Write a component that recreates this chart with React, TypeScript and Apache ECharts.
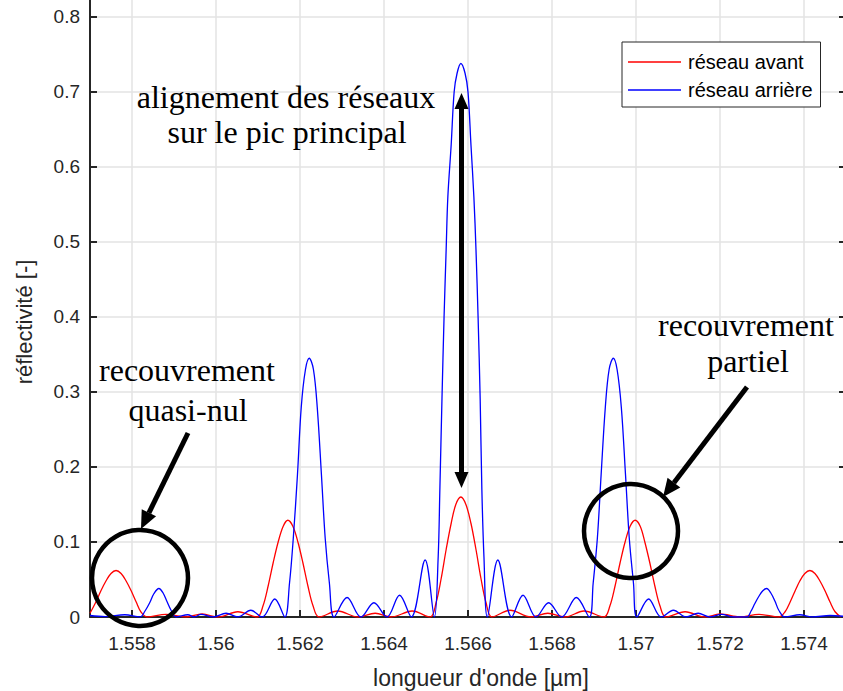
import React, { useEffect, useRef } from "react";
import * as echarts from "echarts";

// wavelength (µm) and reflectivity of the front grating (red)
const redLambda = [
  1.557, 1.55714, 1.55726, 1.55738, 1.5575, 1.55762, 1.55774, 1.55786, 1.55798, 1.5581, 1.55821, 1.55836,
  1.55881, 1.55929, 1.55967, 1.56005, 1.56052, 1.56098,
  1.56112, 1.56124, 1.56136, 1.56148, 1.5616, 1.56171, 1.56183, 1.56195, 1.56207, 1.56219, 1.56231, 1.56245,
  1.5629, 1.56338, 1.56379, 1.56417, 1.56467, 1.5651,
  1.56524, 1.56536, 1.56548, 1.5656, 1.56571, 1.56583, 1.56595, 1.56607, 1.56619, 1.56631, 1.56643, 1.56657,
  1.567, 1.5675, 1.5679, 1.56831, 1.56876, 1.56924,
  1.56938, 1.5695, 1.56962, 1.56974, 1.56986, 1.56998, 1.5701, 1.57021, 1.57033, 1.57045, 1.57057, 1.57071,
  1.57117, 1.57164, 1.572, 1.57248, 1.57293, 1.5734,
  1.57355, 1.57367, 1.57379, 1.5739, 1.57402, 1.57414, 1.57426, 1.57438, 1.5745, 1.57462, 1.57474, 1.57488,
];
const redReflect = [
  0.005, 0.02, 0.035, 0.048, 0.058, 0.062, 0.058, 0.048, 0.035, 0.02, 0.007, 0,
  0.0035, 0, 0.004, 0, 0.007, 0,
  0.015, 0.041, 0.072, 0.1, 0.121, 0.129, 0.121, 0.1, 0.072, 0.041, 0.015, 0,
  0.008, 0, 0.005, 0, 0.008, 0,
  0.019, 0.051, 0.09, 0.125, 0.15, 0.16, 0.15, 0.125, 0.09, 0.051, 0.019, 0,
  0.009, 0, 0.005, 0, 0.008, 0,
  0.015, 0.041, 0.072, 0.1, 0.121, 0.129, 0.121, 0.1, 0.072, 0.041, 0.015, 0,
  0.007, 0, 0.004, 0, 0.0035, 0,
  0.007, 0.02, 0.035, 0.048, 0.058, 0.062, 0.058, 0.048, 0.035, 0.02, 0.007, 0,
];

// wavelength (µm) and reflectivity of the rear grating (blue)
const blueLambda = [
  1.557, 1.55736, 1.55783, 1.55819,
  1.55831, 1.55843, 1.55852, 1.55864, 1.55874, 1.55883, 1.55893, 1.55905,
  1.55933, 1.55948, 1.55964, 1.55993, 1.56024, 1.56052, 1.56083, 1.5611, 1.5614, 1.56164,
  1.56175, 1.56184, 1.56194, 1.56203, 1.56213, 1.56222, 1.56232, 1.56241, 1.56251, 1.5626, 1.5627, 1.56281,
  1.56312, 1.56345, 1.56376, 1.56407, 1.56437, 1.56465, 1.56498, 1.5652,
  1.56529, 1.56533, 1.56538, 1.56543, 1.56548, 1.56552, 1.5656, 1.56567, 1.56574, 1.56583,
  1.56593, 1.566, 1.56607, 1.56614, 1.56619, 1.56624, 1.56629, 1.56633, 1.56638, 1.56646,
  1.56671, 1.56704, 1.56731, 1.56762, 1.56792, 1.56823, 1.56858, 1.56889,
  1.56898, 1.56908, 1.56917, 1.56927, 1.56936, 1.56946, 1.56955, 1.56965, 1.56975, 1.56984, 1.56994, 1.57002,
  1.5703, 1.5706, 1.57089, 1.57119, 1.57148, 1.57176, 1.57204, 1.57231, 1.57264,
  1.57274, 1.57283, 1.57293, 1.57302, 1.57311, 1.57321, 1.57331, 1.5734, 1.57355,
  1.5739, 1.57419, 1.57462, 1.57493,
];
const blueReflect = [
  0.002, 0.0005, 0.003, 0,
  0.008, 0.02, 0.031, 0.038, 0.032, 0.021, 0.009, 0,
  0.003, 0, 0.0035, 0, 0.005, 0, 0.009, 0, 0.024, 0,
  0.045, 0.105, 0.19, 0.28, 0.33, 0.345, 0.33, 0.28, 0.19, 0.105, 0.045, 0,
  0.026, 0, 0.019, 0, 0.029, 0, 0.076, 0,
  0.08, 0.17, 0.29, 0.4, 0.49, 0.56, 0.63, 0.7, 0.725, 0.738,
  0.725, 0.7, 0.63, 0.56, 0.49, 0.4, 0.29, 0.17, 0.08, 0,
  0.076, 0, 0.029, 0, 0.019, 0, 0.026, 0,
  0.045, 0.105, 0.19, 0.28, 0.33, 0.345, 0.33, 0.28, 0.19, 0.105, 0.045, 0,
  0.024, 0, 0.009, 0, 0.005, 0, 0.0035, 0, 0,
  0.008, 0.018, 0.028, 0.035, 0.038, 0.032, 0.021, 0.009, 0,
  0.003, 0, 0.002, 0.001,
];

const seriesNames = ["réseau avant", "réseau arrière"];
const xTitle = "longueur d'onde [µm]";
const yTitle = "réflectivité [-]";

const SANS = "'Liberation Sans', Arial, Helvetica, sans-serif";
const SERIF = "'Liberation Serif', 'Times New Roman', Times, serif";
const AX = "#262626";

function zip(xs: number[], ys: number[]) {
  return xs.map((x, i) => [x, ys[i]]);
}

function head(xt: number, yt: number, xf: number, yf: number, len: number, w: number) {
  const dx = xt - xf, dy = yt - yf;
  const L = Math.hypot(dx, dy);
  const ux = dx / L, uy = dy / L;
  const bx = xt - ux * len, by = yt - uy * len;
  const px = -uy, py = ux;
  return {
    base: [bx, by],
    el: {
      type: "polygon",
      silent: true,
      shape: { points: [[xt, yt], [bx + px * w / 2, by + py * w / 2], [bx - px * w / 2, by - py * w / 2]] },
      style: { fill: "#000" },
      z: 100,
    },
  };
}

function arrow(x1: number, y1: number, x2: number, y2: number, len: number, w: number, lw: number) {
  const h = head(x2, y2, x1, y1, len, w);
  return [
    { type: "line", silent: true, shape: { x1, y1, x2: h.base[0], y2: h.base[1] }, style: { stroke: "#000", lineWidth: lw }, z: 100 },
    h.el,
  ];
}

function doubleArrow(x1: number, y1: number, x2: number, y2: number, len: number, w: number, lw: number) {
  const a = head(x1, y1, x2, y2, len, w);
  const b = head(x2, y2, x1, y1, len, w);
  return [
    { type: "line", silent: true, shape: { x1: a.base[0], y1: a.base[1], x2: b.base[0], y2: b.base[1] }, style: { stroke: "#000", lineWidth: lw }, z: 100 },
    a.el,
    b.el,
  ];
}

function label(text: string, x: number, y: number) {
  return {
    type: "text",
    silent: true,
    x,
    y,
    z: 100,
    style: { text, fill: "#000", font: `32px ${SERIF}`, textAlign: "center", textVerticalAlign: "middle" },
  };
}

function circle(cx: number, cy: number, r: number) {
  return { type: "circle", silent: true, shape: { cx, cy, r }, style: { fill: "none", stroke: "#000", lineWidth: 4.5 }, z: 100 };
}

export default function App() {
  const ref = useRef<HTMLDivElement>(null);
  useEffect(() => {
    document.body.style.margin = "0";
    const chart = echarts.init(ref.current!, null, { renderer: "svg" });
    const fmt = (v: number) => String(parseFloat(v.toFixed(4)));
    const option: any = {
      animation: false,
      backgroundColor: "#fff",
      grid: { left: 90, top: -2, width: 756, height: 619, containLabel: false, outerBoundsMode: "none" },
      legend: {
        data: seriesNames,
        left: 622,
        top: 42,
        orient: "vertical",
        selectedMode: false,
        backgroundColor: "#fff",
        borderColor: AX,
        borderWidth: 1,
        padding: [10, 8, 7, 6],
        itemGap: 8,
        itemWidth: 53,
        itemHeight: 1.5,
        icon: "rect",
        textStyle: { fontSize: 20, color: "#000", fontFamily: SANS, padding: [0, 0, 0, 2] },
        z: 50,
      },
      xAxis: {
        type: "value",
        min: 1.557,
        max: 1.575,
        splitNumber: 9,
        axisLine: { show: true, onZero: false, lineStyle: { color: AX, width: 2 } },
        axisTick: { show: true, inside: true, length: 7, lineStyle: { color: AX, width: 2 } },
        axisLabel: { show: true, showMinLabel: false, showMaxLabel: false, margin: 17, fontSize: 19, color: AX, fontFamily: SANS, formatter: fmt },
        splitLine: { show: true, lineStyle: { color: "#e3e3e3", width: 1.5 } },
      },
      yAxis: [
        {
          type: "value",
          min: 0,
          max: 0.8253,
          interval: 0.1,
          axisLine: { show: true, lineStyle: { color: AX, width: 2 } },
          axisTick: { show: true, inside: true, length: 7, lineStyle: { color: AX, width: 2 } },
          axisLabel: { show: true, showMaxLabel: false, margin: 10, fontSize: 19, color: AX, fontFamily: SANS, formatter: fmt },
          splitLine: { show: true, lineStyle: { color: "#e3e3e3", width: 1.5 } },
        },
        {
          type: "value",
          position: "right",
          min: 0,
          max: 0.8253,
          interval: 0.1,
          axisLine: { show: false },
          axisTick: { show: true, inside: true, length: 7, lineStyle: { color: AX, width: 2 } },
          axisLabel: { show: false },
          splitLine: { show: false },
        },
      ],
      series: [
        {
          name: seriesNames[0],
          type: "line",
          data: zip(redLambda, redReflect),
          smooth: 0.35,
          symbol: "none",
          showSymbol: false,
          color: "#ff0000",
          lineStyle: { color: "#ff0000", width: 1.3 },
          z: 3,
        },
        {
          name: seriesNames[1],
          type: "line",
          data: zip(blueLambda, blueReflect),
          smooth: 0.35,
          symbol: "none",
          showSymbol: false,
          color: "#0000ff",
          lineStyle: { color: "#0000ff", width: 1.3 },
          z: 4,
        },
      ],
      graphic: [
        {
          type: "text",
          silent: true,
          x: 481,
          y: 678,
          style: { text: xTitle, fill: AX, font: `23px ${SANS}`, textAlign: "center", textVerticalAlign: "middle" },
        },
        {
          type: "text",
          silent: true,
          x: 24,
          y: 322,
          rotation: Math.PI / 2,
          style: { text: yTitle, fill: AX, font: `22px ${SANS}`, textAlign: "center", textVerticalAlign: "middle" },
        },
        label("alignement des réseaux", 286, 97),
        label("sur le pic principal", 287, 132),
        label("recouvrement", 187, 370),
        label("quasi-nul", 188, 410),
        label("recouvrement", 746, 325),
        label("partiel", 748, 361),
        circle(140, 578, 48),
        circle(631, 531, 47),
        ...arrow(188, 433, 141, 529, 18, 16, 5),
        ...arrow(747, 387, 663, 497, 18, 16, 5),
        ...doubleArrow(461.5, 93, 461.5, 488, 16, 14, 5),
      ],
    };
    chart.setOption(option);
    return () => chart.dispose();
  }, []);
  return <div ref={ref} style={{ width: 843, height: 691, position: "fixed", left: 0, top: 0 }} />;
}
